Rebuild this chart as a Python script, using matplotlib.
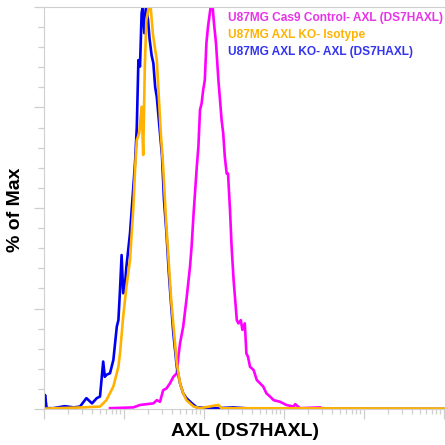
import numpy as np
import matplotlib
matplotlib.use("Agg")
import matplotlib.pyplot as plt
from matplotlib.ticker import LogLocator, MultipleLocator, NullFormatter

# AXL intensity (log10 of channel value) and % of max
ko_axl_log = [0.004, 0.0125, 0.033, 0.117, 0.26, 0.37, 0.45, 0.53, 0.60, 0.66,
              0.70, 0.74, 0.76, 0.78, 0.825, 0.867, 0.91, 0.93, 0.95, 0.97,
              0.99, 1.01, 1.03, 1.075, 1.117, 1.14, 1.16, 1.18, 1.20, 1.22,
              1.233, 1.254, 1.275, 1.30, 1.32, 1.345, 1.367, 1.39, 1.41, 1.45,
              1.475, 1.50, 1.53, 1.56, 1.585, 1.617, 1.66, 1.70, 1.74, 1.78,
              1.85, 1.91, 2.16, 2.37, 2.58, 5.01]
ko_axl_pct = [0, 3.5, 0.2, 0.2, 0.7, 0.4, 0.6, 2.7, 1.4, 2.7,
              3.1, 11.8, 8.0, 8.5, 8.9, 12.2, 20.5, 22.1, 29.6, 38.3,
              28.8, 30.4, 35.4, 43.7, 55.3, 61.9, 70.2, 86.8, 85.2, 98.4,
              100, 93.5, 100, 96.8, 92.0, 88.0, 86.0, 80.0, 77.6, 68.6,
              63.0, 52.0, 44.0, 34.0, 27.0, 18.8, 10.5, 6.4, 3.9, 2.7,
              1.4, 0.4, 0.2, 0.4, 0.1, 0]

ko_iso_log = [0.004, 0.49, 0.70, 0.78, 0.867, 0.93, 0.95, 0.99, 1.03, 1.075,
              1.117, 1.14, 1.16, 1.19, 1.22, 1.24, 1.26, 1.28, 1.31, 1.333,
              1.36, 1.385, 1.41, 1.46, 1.49, 1.525, 1.59, 1.63, 1.66,
              1.70, 1.74, 1.78, 1.825, 1.87, 1.95, 2.18, 2.22, 5.01]
ko_iso_pct = [0.1, 0.4, 0.6, 2.2, 5.6, 10.5, 13.8, 23.0, 30.4, 37.1,
              50.3, 60.3, 66.9, 68.6, 75.2, 63.2, 85.2, 96.8, 100, 100,
              93.5, 90.0, 86.8, 68.6, 60.0, 47.0, 27.0, 18.0, 11.4,
              6.4, 3.9, 2.2, 1.4, 0.6, 0.2, 1.0, 0.2, 0.1]

ctrl_axl_log = [0.825, 1.117, 1.20, 1.283, 1.367, 1.41, 1.45, 1.49, 1.53, 1.575,
                1.617, 1.66, 1.68, 1.70, 1.74, 1.78, 1.825, 1.845, 1.87, 1.91,
                1.93, 1.95, 1.97, 1.99, 2.01, 2.03, 2.05, 2.083, 2.108, 2.125,
                2.15, 2.18, 2.20, 2.22, 2.24, 2.26, 2.283, 2.30, 2.325, 2.345,
                2.37, 2.39, 2.41, 2.43, 2.46, 2.48, 2.51, 2.53, 2.55, 2.575,
                2.62, 2.66, 2.70, 2.74, 2.78, 2.825, 2.87, 2.95, 3.03, 3.12,
                3.14, 3.20, 3.45, 3.49]
ctrl_axl_pct = [0.2, 0.4, 1.0, 1.2, 1.4, 2.2, 1.8, 4.7, 5.1, 6.4,
                8.0, 8.9, 13.0, 16.3, 20.5, 27.1, 35.4, 40.4, 48.7, 60.3,
                65.3, 74.4, 76.0, 79.4, 81.8, 91.0, 95.1, 100, 100, 95.9,
                91.0, 81.8, 76.9, 71.9, 68.6, 62.8, 58.6, 58.6, 49.5, 40.4,
                32.1, 27.1, 22.1, 21.3, 22.1, 19.7, 21.3, 13.8, 13.0, 10.5,
                9.7, 7.2, 6.4, 5.6, 3.9, 3.1, 2.2, 1.8, 1.0, 0.6,
                1.2, 0.2, 0.4, 0.1]

labels = ["U87MG Cas9 Control- AXL (DS7HAXL)",
          "U87MG AXL KO- Isotype",
          "U87MG AXL KO- AXL (DS7HAXL)"]
colors = ["#ff00ff", "#ffb300", "#0000f0"]
text_colors = ["#e834e8", "#ffb300", "#3434f0"]

plt.rcParams["font.family"] = ["Liberation Sans", "DejaVu Sans"]

fig = plt.figure(figsize=(4.45, 4.45), dpi=100)
ax = fig.add_axes([44 / 445, 36 / 445, 401 / 445, 402 / 445])

ax.plot(10 ** np.array(ctrl_axl_log), ctrl_axl_pct, color=colors[0], lw=1.9)
ax.plot(10 ** np.array(ko_axl_log), ko_axl_pct, color=colors[2], lw=1.9)
ax.plot(10 ** np.array(ko_iso_log), ko_iso_pct, color=colors[1], lw=1.9)

ax.set_xscale("log")
ax.set_xlim(1, 10 ** 5.0125)
ax.set_ylim(0, 100)

grey = "#cfcfcf"
for side in ["left", "bottom", "top"]:
    ax.spines[side].set_color(grey)
ax.spines["right"].set_visible(False)

ax.xaxis.set_major_locator(LogLocator(base=10, numticks=10))
ax.xaxis.set_minor_locator(LogLocator(base=10, subs=np.arange(2, 10), numticks=20))
ax.xaxis.set_major_formatter(NullFormatter())
ax.xaxis.set_minor_formatter(NullFormatter())
ax.yaxis.set_major_locator(MultipleLocator(25))
ax.yaxis.set_minor_locator(MultipleLocator(5))
ax.yaxis.set_major_formatter(NullFormatter())
ax.tick_params(which="major", length=7, width=0.9, color=grey)
ax.tick_params(which="minor", length=4.5, width=0.9, color=grey)
ax.tick_params(axis="x", which="major", length=7)
ax.tick_params(axis="x", which="minor", length=3.8)

ax.set_xlabel("AXL (DS7HAXL)", fontsize=14, fontweight="bold", va="center")
ax.xaxis.set_label_coords(0.501, -0.057)
ax.set_ylabel("% of Max", fontsize=14, fontweight="bold", va="center")
ax.yaxis.set_label_coords(-0.07, 0.495)

for i, (lab, c) in enumerate(zip(labels, text_colors)):
    ax.text(0.459, 0.973 - i * 0.043, lab, transform=ax.transAxes,
            color=c, fontsize=8.6, fontweight="bold", ha="left", va="center")

fig.savefig("out.png", dpi=100)
